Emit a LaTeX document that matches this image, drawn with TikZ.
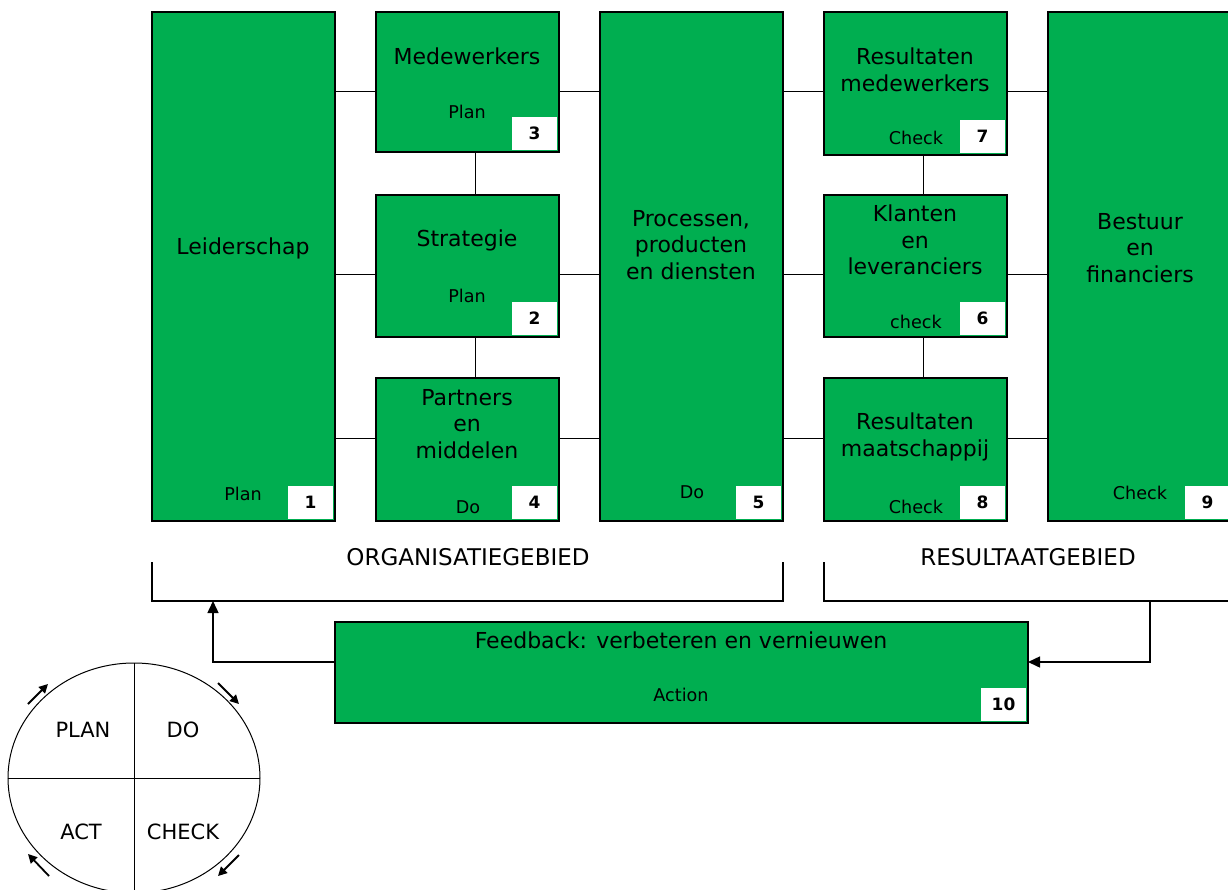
\documentclass[tikz,border=0pt]{standalone}
\usepackage{fontspec}
\setmainfont{DejaVu Sans}
\usetikzlibrary{arrows.meta,shapes.geometric}
\definecolor{efqm}{RGB}{0,174,80}

\tikzset{
  area/.style={draw=black, fill=efqm, line width=0.7pt, inner sep=0pt, outer sep=0pt},
  tag/.style={fill=white, inner sep=0pt, outer sep=0pt, minimum width=22.5pt,
    minimum height=16.5pt, anchor=south east,
    font=\fontsize{8.5}{10}\selectfont\bfseries},
  big/.style={inner sep=0pt, align=center, font=\fontsize{11}{13.25}\selectfont},
  small/.style={inner sep=0pt, font=\fontsize{8.8}{10}\selectfont},
  cycletext/.style={inner sep=0pt, font=\fontsize{10.5}{12}\selectfont},
  link/.style={line width=0.5pt},
  bracket/.style={line width=0.65pt},
  feed/.style={line width=0.75pt, -{Triangle[length=6pt,width=5.5pt]}},
  turn/.style={line width=0.9pt, -{Triangle[length=4.5pt,width=4.5pt]}},
}

\begin{document}
\begin{tikzpicture}[x=0.5pt,y=-0.5pt]
\useasboundingbox (0,0) rectangle (1228,890);
% organisatie
\node [area, minimum width=91.5pt, minimum height=254.5pt] (b1) at (243.5,266.5) {};
\node [area, minimum width=91.5pt, minimum height=70pt]    (b3) at (467.5,82) {};
\node [area, minimum width=91.5pt, minimum height=71pt]    (b2) at (467.5,266) {};
\node [area, minimum width=91.5pt, minimum height=71.5pt]  (b4) at (467.5,449.5) {};
\node [area, minimum width=91.5pt, minimum height=254.5pt] (b5) at (691.5,266.5) {};
% resultaten
\node [area, minimum width=91.5pt, minimum height=71.5pt]  (b7) at (915.5,83.5) {};
\node [area, minimum width=91.5pt, minimum height=71pt]    (b6) at (915.5,266) {};
\node [area, minimum width=91.5pt, minimum height=71.5pt]  (b8) at (915.5,449.5) {};
\node [area, minimum width=92pt, minimum height=254.5pt]   (b9) at (1140,266.5) {};
% feedback
\node [area, minimum width=346.5pt, minimum height=50.5pt] (b10) at (681.5,672.5) {};

\foreach \b/\n in {b1/1, b2/2, b3/3, b4/4, b5/5, b6/6, b7/7, b8/8, b9/9, b10/10}
  \node [tag] (n\n) at ([xshift=-1pt,yshift=1pt]\b.south east) {\n};

\foreach \m/\d in {b3/-4.5, b2/-4, b4/5.75} {
  \draw [link] ([yshift=\d pt]\m.west) -- ([yshift=\d pt]\m.west -| b1.east);
  \draw [link] ([yshift=\d pt]\m.east) -- ([yshift=\d pt]\m.east -| b5.west);
}
\foreach \m/\d in {b7/-3.75, b6/-4, b8/5.75} {
  \draw [link] ([yshift=\d pt]\m.west) -- ([yshift=\d pt]\m.west -| b5.east);
  \draw [link] ([yshift=\d pt]\m.east) -- ([yshift=\d pt]\m.east -| b9.west);
}
\draw [link] ([xshift=3.75pt]b3.south) -- ([xshift=3.75pt]b2.north)
             ([xshift=3.75pt]b2.south) -- ([xshift=3.75pt]b4.north)
             ([xshift=3.75pt]b7.south) -- ([xshift=3.75pt]b6.north)
             ([xshift=3.75pt]b6.south) -- ([xshift=3.75pt]b8.north);

\node [big] (l1) at (243,248) {Leiderschap};
\node [small] (p1) at (243,494) {Plan};
\node [big] (l3) at (467,56) {Medewerkers};
\node [small] (p3) at (467,112) {Plan};
\node [big] (l2) at (467,240) {Strategie};
\node [small] (p2) at (467,296) {Plan};
\node [big] (l4) at (467,424) {Partners\\en\\middelen};
\node [small] (p4) at (468,507) {Do};
\node [big] (l5) at (691,245) {Processen,\\producten\\en diensten};
\node [small] (p5) at (692,492) {Do};
\node [big] (l7) at (915,70) {Resultaten\\medewerkers};
\node [small] (p7) at (916,138) {Check};
\node [big] (l6) at (915,240) {Klanten\\en\\leveranciers};
\node [small] (p6) at (916,322) {check};
\node [big] (l8) at (915,437) {Resultaten\\maatschappij};
\node [small] (p8) at (916,507) {Check};
\node [big] (l9) at (1140,248) {Bestuur\\en\\financiers};
\node [small] (p9) at (1140,493) {Check};
\node [big] (l10) at (681,640) {Feedback: verbeteren en vernieuwen};
\node [small] (p10) at (681,695) {Action};

\node [big, font=\fontsize{11.5}{13}\selectfont] (org) at (468,557) {ORGANISATIEGEBIED};
\node [big, font=\fontsize{11.5}{13}\selectfont] (res) at (1028,557) {RESULTAATGEBIED};

\coordinate (orgtl) at (152,562);
\coordinate (orgbl) at (152,601);
\coordinate (orgbr) at (783,601);
\coordinate (orgtr) at (783,562);
\coordinate (restl) at (824,562);
\coordinate (resbl) at (824,601);
\coordinate (resbr) at (1234,601);
\draw [bracket] (orgtl) -- (orgbl) -- (orgbr) -- (orgtr);
\draw [bracket] (restl) -- (resbl) -- (resbr);

\coordinate (resout) at (1150,601);
\coordinate (orgin) at (213,601);
\draw [feed] (resout) |- ([yshift=5.25pt]b10.east);
\draw [feed] ([yshift=5.25pt]b10.west) -| (orgin);

% pdca
\node [draw, ellipse, minimum width=126pt, minimum height=115pt, inner sep=0pt,
       outer sep=0pt, line width=0.5pt] (pdca) at (134,778) {};
\draw [link] (pdca.north) -- (pdca.south)
             (pdca.west) -- (pdca.east);
\node [cycletext] (plan) at (83,730) {PLAN};
\node [cycletext] (do) at (183,730) {DO};
\node [cycletext] (act) at (81,832) {ACT};
\node [cycletext] (check) at (183,832) {CHECK};

\coordinate (tl1) at (28,704);  \coordinate (tl2) at (48,684);
\coordinate (tr1) at (218,683); \coordinate (tr2) at (239,704);
\coordinate (br1) at (239,855); \coordinate (br2) at (218,876);
\coordinate (bl1) at (49,876);  \coordinate (bl2) at (28,854);
\draw [turn] (tl1) -- (tl2);
\draw [turn] (tr1) -- (tr2);
\draw [turn] (br1) -- (br2);
\draw [turn] (bl1) -- (bl2);
\end{tikzpicture}
\end{document}
